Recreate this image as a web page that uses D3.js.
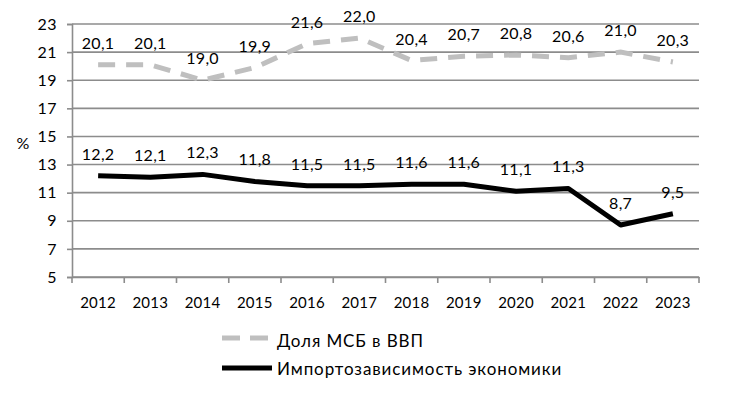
<!DOCTYPE html>
<html><head><meta charset="utf-8">
<script src="https://cdn.jsdelivr.net/npm/d3@7"></script>
<style>body{margin:0;background:#fff}svg{display:block}text{font-family:Lato,"Open Sans",sans-serif;fill:#000}</style>
</head><body>
<script>
const years = ["2012","2013","2014","2015","2016","2017","2018","2019","2020","2021","2022","2023"];
const smeShare = [20.1,20.1,19.0,19.9,21.6,22.0,20.4,20.7,20.8,20.6,21.0,20.3];
const importDep = [12.2,12.1,12.3,11.8,11.5,11.5,11.6,11.6,11.1,11.3,8.7,9.5];
const yTicks = [5,7,9,11,13,15,17,19,21,23];
const seriesNames = ["Доля МСБ в ВВП","Импортозависимость экономики"];

(function(){
const W=730,H=400;
const svg=d3.select("body").append("svg").attr("width",W).attr("height",H);
const mL=72,mR=699,mT=24,mB=277;
const x=d3.scaleBand().domain(years).range([mL,mR]);
const y=d3.scaleLinear().domain([5,23]).range([mB,mT]);
const fmt=v=>v.toFixed(1).replace(".",",");

svg.append("g").selectAll("line").data(yTicks).join("line")
  .attr("x1",mL).attr("x2",mR).attr("y1",d=>y(d)).attr("y2",d=>y(d))
  .attr("stroke","#8c8c8c").attr("stroke-width",1.6);

const ya=svg.append("g").attr("transform",`translate(${mL},0)`)
  .call(d3.axisLeft(y).tickValues(yTicks).tickSize(5).tickPadding(10).tickFormat(d3.format("d")));
ya.select(".domain").attr("stroke","#8c8c8c").attr("stroke-width",1.6);
ya.selectAll(".tick line").attr("stroke","#8c8c8c").attr("stroke-width",1.6);
ya.selectAll("text").attr("font-size",16).attr("font-family","Lato,'Open Sans',sans-serif").attr("letter-spacing",0.5);

const xa=svg.append("g").attr("transform",`translate(0,${mB})`)
  .call(d3.axisBottom(x).tickSize(0).tickPadding(20));
xa.select(".domain").attr("stroke","#8c8c8c").attr("stroke-width",1.6);
xa.selectAll("text").attr("font-size",15).attr("font-family","Lato,'Open Sans',sans-serif").attr("letter-spacing",0.3);
const bounds=years.map(d=>x(d)).concat([mR]);
svg.append("g").selectAll("line").data(bounds).join("line")
  .attr("x1",d=>d).attr("x2",d=>d).attr("y1",mB).attr("y2",mB+6)
  .attr("stroke","#8c8c8c").attr("stroke-width",1.6);

svg.append("text").attr("x",23).attr("y",149).attr("text-anchor","middle").attr("font-size",16).text("%");

const cx=d=>x(d)+x.bandwidth()/2;
const line=vals=>d3.line().x((d,i)=>cx(years[i])).y(d=>y(d))(vals);

svg.append("path").attr("d",line(smeShare)).attr("fill","none")
  .attr("stroke","#bfbfbf").attr("stroke-width",5).attr("stroke-dasharray","17,11");
svg.append("path").attr("d",line(importDep)).attr("fill","none")
  .attr("stroke","#000").attr("stroke-width",5).attr("stroke-linejoin","round");

[smeShare,importDep].forEach(vals=>{
  svg.append("g").selectAll("text").data(vals).join("text")
    .attr("x",(d,i)=>cx(years[i])).attr("y",d=>y(d)-16)
    .attr("text-anchor","middle").attr("font-size",16).attr("letter-spacing",0.3).text(fmt);
});

const lg=svg.append("g");
lg.append("line").attr("x1",222).attr("x2",268).attr("y1",338).attr("y2",338)
  .attr("stroke","#bfbfbf").attr("stroke-width",5).attr("stroke-dasharray","18,10");
lg.append("text").attr("x",277).attr("y",347).attr("font-size",17).attr("letter-spacing",0.9).text(seriesNames[0]);
lg.append("line").attr("x1",222).attr("x2",272).attr("y1",368).attr("y2",368)
  .attr("stroke","#000").attr("stroke-width",5);
lg.append("text").attr("x",277).attr("y",375).attr("font-size",17).attr("letter-spacing",0.9).text(seriesNames[1]);
})();
</script>
</body></html>
